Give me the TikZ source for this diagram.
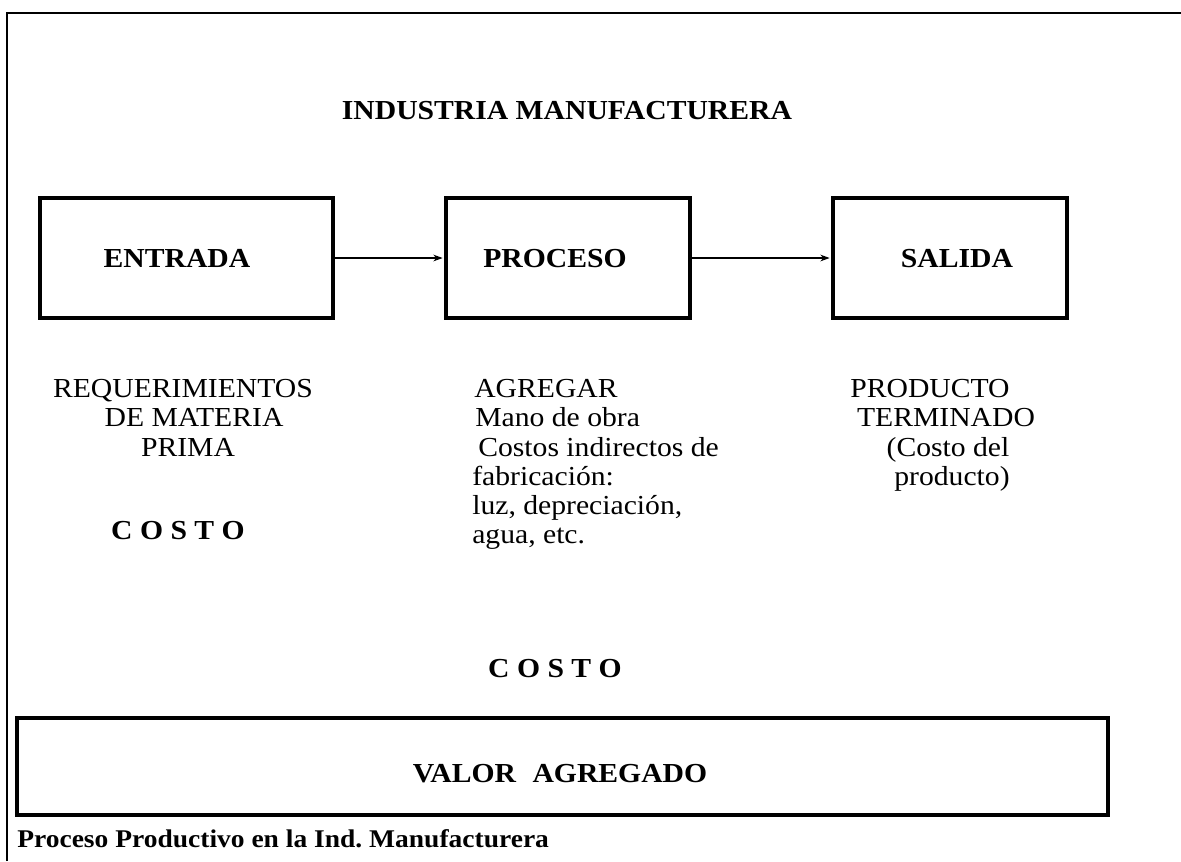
\documentclass[tikz,border=0pt]{standalone}
\usepackage{fontspec}
\setmainfont{Liberation Serif}[FakeStretch=1.08]
\usetikzlibrary{arrows.meta}
\newcommand{\bodyfont}{\fontsize{20.6pt}{22pt}\selectfont}
\newcommand{\capfont}{\fontsize{19.1pt}{20pt}\selectfont}
\begin{document}
\begin{tikzpicture}[x=0.75pt,y=-0.75pt,
  frame/.style={line width=2pt},
  stagebox/.style={draw, line width=3pt, inner sep=0pt},
  conn/.style={line width=1.2pt, -{Stealth[length=7pt,width=5pt]}, shorten >=1pt},
  txt/.style={inner sep=0pt, anchor=base, font=\bodyfont},
  txtl/.style={inner sep=0pt, anchor=base west, font=\bodyfont},
  btxt/.style={inner sep=0pt, anchor=base, font=\bodyfont\bfseries}]
\useasboundingbox (0,0) rectangle (1181,861);
\fill[white] (0,0) rectangle (1181,861);
% outer frame (top and left edges)
\draw[frame] (7,861) -- (7,13) -- (1181,13);
% title
\node[btxt] (title) at (567,119) {INDUSTRIA MANUFACTURERA};
% stage boxes (sizes in px * 0.75pt)
\node[stagebox, minimum width=219.75pt, minimum height=90pt] (entrada) at (186.5,258) {};
\node[stagebox, minimum width=183pt, minimum height=90pt] (proceso) at (568,258) {};
\node[stagebox, minimum width=175.5pt, minimum height=90pt] (salida) at (950,258) {};
\node[btxt] (entradaT) at (177,267) {ENTRADA};
\node[btxt] (procesoT) at (555,267) {PROCESO};
\node[btxt] (salidaT) at (957,267) {SALIDA};
\draw[conn] (entrada.east) -- (proceso.west);
\draw[conn] (proceso.east) -- (salida.west);
% left column
\node[txt] (l1) at (183,397) {REQUERIMIENTOS};
\node[txt] (l2) at (194,426) {DE MATERIA};
\node[txt] (l3) at (188,456) {PRIMA};
\node[btxt] (costo1) at (178,539) {C O S T O};
% middle column
\node[txtl] (m1) at (474,397) {AGREGAR};
\node[txtl] (m2) at (475,426) {Mano de obra};
\node[txtl] (m3) at (478,456) {Costos indirectos de};
\node[txtl] (m4) at (472,485) {fabricación:};
\node[txtl] (m5) at (472,514) {luz, depreciación,};
\node[txtl] (m6) at (472,543) {agua, etc.};
% right column
\node[txt] (r1) at (930,397) {PRODUCTO};
\node[txt] (r2) at (946,426) {TERMINADO};
\node[txt] (r3) at (948,456) {(Costo del};
\node[txt] (r4) at (952,485) {producto)};
% bottom
\node[btxt] (costo2) at (555,677) {C O S T O};
\node[stagebox, minimum width=818.25pt, minimum height=72.75pt] (valor) at (562.5,766.5) {};
\node[btxt] (valorT) at (560,782) {VALOR\hspace{0.6em}AGREGADO};
\node[inner sep=0pt, anchor=base west, font=\capfont\bfseries] (caption) at (17,847) {Proceso Productivo en la Ind.\ Manufacturera};
\end{tikzpicture}
\end{document}
